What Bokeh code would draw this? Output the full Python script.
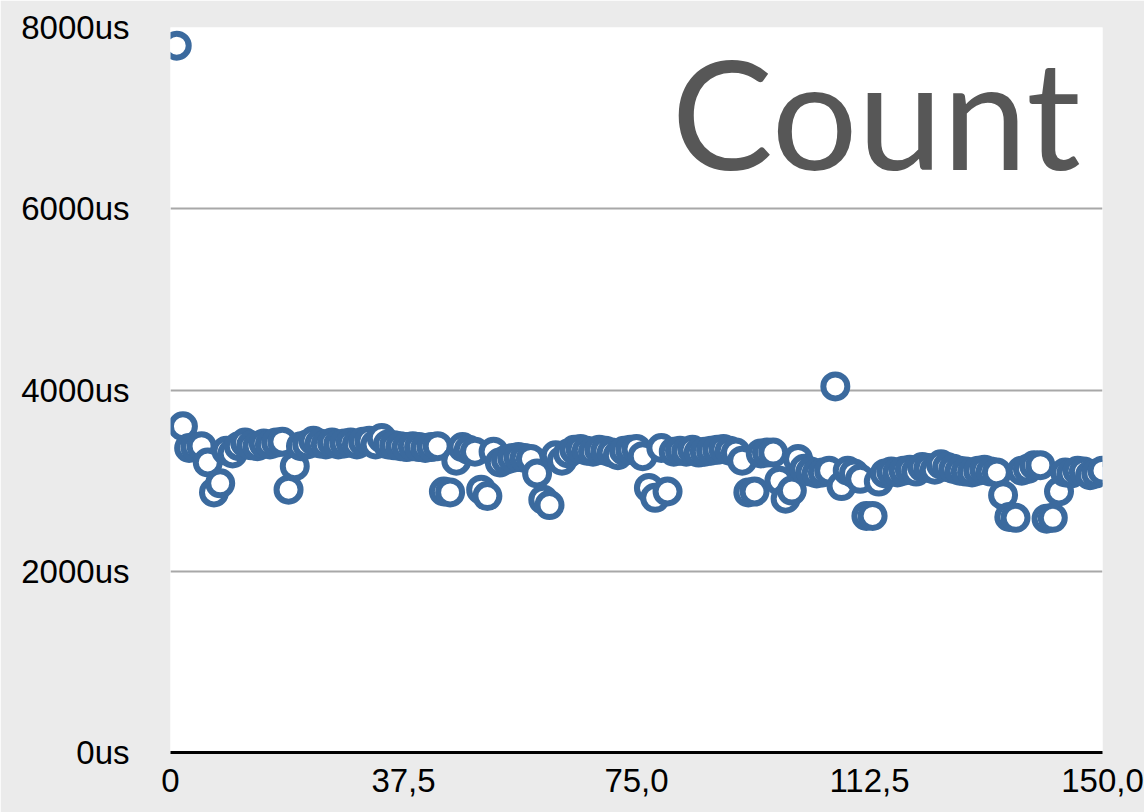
from bokeh.plotting import figure
from bokeh.models import Range1d, FixedTicker, Label, ColumnDataSource
from bokeh.embed import file_html
from bokeh.resources import INLINE

# Sample index (1..150) and measured duration in microseconds
sample = list(range(1, 151))
duration_us = [
    7800, 3600, 3360, 3370, 3380, 3200, 2870, 2970, 3330, 3300,
    3380, 3420, 3390, 3380, 3410, 3400, 3420, 3430, 2900, 3160,
    3380, 3400, 3440, 3410, 3400, 3420, 3400, 3410, 3420, 3400,
    3430, 3440, 3400, 3470, 3400, 3390, 3380, 3370, 3380, 3370,
    3360, 3370, 3380, 2880, 2870, 3220, 3370, 3340, 3320, 2900,
    2830, 3320, 3200, 3230, 3250, 3260, 3250, 3240, 3080, 2790,
    2730, 3280, 3220, 3300, 3340, 3350, 3330, 3320, 3340, 3330,
    3310, 3280, 3330, 3340, 3350, 3270, 2920, 2810, 3360, 2880,
    3320, 3330, 3320, 3340, 3310, 3320, 3330, 3340, 3350, 3330,
    3310, 3220, 2870, 2880, 3300, 3310, 3310, 3000, 2800, 2890,
    3240, 3130, 3100, 3080, 3090, 3110, 4040, 2940, 3110, 3080,
    3020, 2610, 2610, 2990, 3080, 3100, 3090, 3110, 3120, 3100,
    3150, 3140, 3120, 3180, 3150, 3130, 3110, 3100, 3090, 3110,
    3120, 3100, 3090, 2840, 2600, 2590, 3110, 3130, 3170, 3170,
    2580, 2590, 2880, 3090, 3080, 3110, 3100, 3060, 3080, 3110,
]

x_ticks = [0, 37.5, 75, 112.5, 150]
x_tick_labels = ["0", "37,5", "75,0", "112,5", "150,0"]
y_ticks = [0, 2000, 4000, 6000, 8000]
y_tick_labels = ["0us", "2000us", "4000us", "6000us", "8000us"]
title_text = "Count"

p = figure(
    width=1144, height=812,
    x_range=Range1d(0, 150), y_range=Range1d(0, 8000),
    output_backend="svg", toolbar_location=None,
    min_border_left=170, min_border_right=42,
    min_border_top=27, min_border_bottom=60,
)
p.border_fill_color = "#ebebeb"
p.background_fill_color = "white"
p.outline_line_color = None

label_font = "Liberation Sans"

# x axis
p.xaxis.ticker = FixedTicker(ticks=x_ticks)
p.xaxis.major_label_overrides = {t: l for t, l in zip(x_ticks, x_tick_labels)}
p.xaxis.axis_line_color = "black"
p.xaxis.axis_line_width = 3
p.xaxis.major_tick_line_color = None
p.xaxis.minor_tick_line_color = None
p.xaxis.major_label_text_font = label_font
p.xaxis.major_label_text_font_size = "33px"
p.xaxis.major_label_text_color = "black"
p.xaxis.major_label_standoff = 10

# y axis
p.yaxis.ticker = FixedTicker(ticks=y_ticks)
p.yaxis.major_label_overrides = {t: l for t, l in zip(y_ticks, y_tick_labels)}
p.yaxis.axis_line_color = None
p.yaxis.major_tick_line_color = None
p.yaxis.minor_tick_line_color = None
p.yaxis.major_label_text_font = label_font
p.yaxis.major_label_text_font_size = "33px"
p.yaxis.major_label_text_color = "black"
p.yaxis.major_label_standoff = 35

p.xgrid.grid_line_color = None
p.ygrid.ticker = FixedTicker(ticks=y_ticks[1:])
p.ygrid.grid_line_color = "#a8a8a8"
p.ygrid.grid_line_width = 2

src = ColumnDataSource(data=dict(x=sample, y=duration_us))
p.scatter("x", "y", source=src, size=24, fill_color="white",
          line_color="#3b6a9e", line_width=6)

p.add_layout(Label(
    x=146.5, y=7080, text=title_text,
    text_font="Lato", text_font_size="152px", text_color="#575757",
    text_align="right", text_baseline="alphabetic",
))

open("out.html", "w").write(file_html(p, INLINE))
